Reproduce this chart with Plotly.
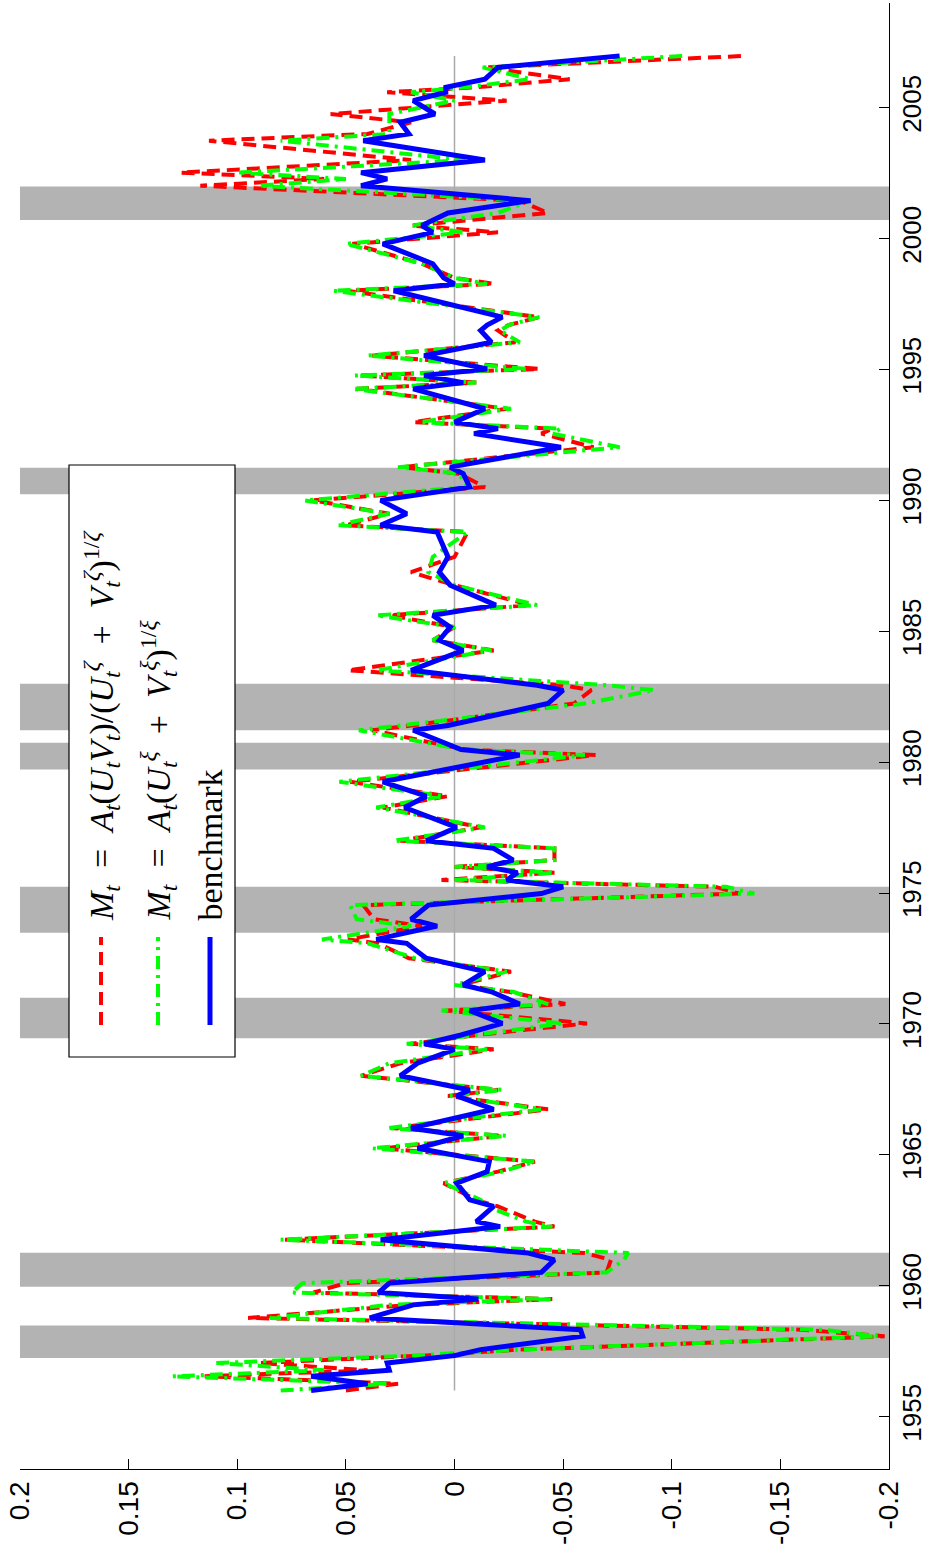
import plotly.graph_objects as go

# ---------------- data ----------------
years = [1956.00, 1956.26, 1956.54, 1956.77, 1957.05, 1957.33, 1957.56, 1958.07, 1958.32, 1958.77,
         1959.27, 1959.49, 1959.74, 1960.10, 1960.51, 1960.99, 1961.25, 1961.76, 1962.26, 1962.45,
         1963.03, 1963.28, 1963.92, 1964.36, 1964.74, 1965.25, 1965.73, 1966.02, 1966.74, 1967.25,
         1967.48, 1968.02, 1968.50, 1969.03, 1969.24, 1969.58, 1970.02, 1970.51, 1970.76, 1971.23,
         1971.49, 1972.00, 1972.51, 1973.08, 1973.23, 1973.74, 1974.00, 1974.54, 1974.98, 1975.24,
         1975.50, 1975.78, 1976.00, 1976.26, 1976.71, 1977.00, 1977.51, 1978.27, 1978.70, 1979.25,
         1980.27, 1980.48, 1981.22, 1981.40, 1982.24, 1982.75, 1982.94, 1983.51, 1984.27, 1984.66,
         1985.16, 1985.61, 1986.00, 1986.76, 1987.26, 1987.84, 1988.79, 1989.05, 1989.49, 1990.00,
         1990.51, 1991.02, 1991.27, 1992.03, 1992.55, 1992.74, 1992.99, 1993.50, 1994.26, 1994.50,
         1994.77, 1995.02, 1995.53, 1996.04, 1996.49, 1996.70, 1997.00, 1998.01, 1998.27, 1998.50,
         1999.04, 1999.80, 2000.24, 2000.50, 2000.98, 2001.45, 2002.02, 2002.28, 2002.52, 2003.00,
         2003.74, 2004.00, 2004.44, 2004.76, 2005.27, 2005.59, 2005.78, 2006.09, 2006.54, 2006.98]

benchmark = [0.066, 0.040, 0.066, 0.030, 0.031, 0.000, -0.012, -0.059, -0.058, 0.039,
             0.019, -0.011, 0.035, 0.030, -0.040, -0.046, -0.034, 0.034, -0.021, -0.010,
             -0.018, -0.007, -0.001, -0.015, -0.016, 0.017, -0.004, 0.020, -0.018, -0.001,
             -0.007, 0.025, 0.017, 0.000, 0.014, -0.003, -0.022, -0.007, -0.030, -0.017,
             -0.004, -0.014, 0.013, 0.022, 0.036, 0.008, 0.020, 0.012, -0.040, -0.050,
             -0.024, -0.029, -0.015, -0.027, -0.018, 0.013, -0.001, 0.023, 0.013, 0.033,
             -0.030, -0.003, 0.019, 0.003, -0.043, -0.050, -0.038, 0.020, -0.004, 0.007,
             0.002, 0.010, -0.019, 0.002, 0.007, 0.003, 0.008, 0.034, 0.022, 0.034,
             -0.007, -0.004, 0.002, -0.049, -0.009, -0.020, 0.000, -0.014, 0.019, -0.004,
             0.014, -0.015, 0.014, -0.017, -0.012, -0.015, -0.022, 0.028, 0.000, 0.005,
             0.010, 0.033, 0.010, 0.015, 0.003, -0.035, 0.043, 0.031, 0.043, -0.014,
             0.042, 0.021, 0.025, 0.009, 0.019, 0.004, 0.004, -0.014, -0.020, -0.076]

ces_model = [0.050, 0.026, 0.115, 0.040, 0.090, 0.015, -0.030, -0.198, -0.160, 0.095,
             0.020, -0.045, 0.065, 0.050, -0.070, -0.072, -0.060, 0.078, -0.046, -0.037,
             -0.020, -0.010, 0.005, -0.020, -0.037, 0.033, -0.022, 0.028, -0.043, 0.003,
             -0.020, 0.043, 0.025, -0.018, 0.020, -0.010, -0.061, 0.004, -0.051, -0.025,
             -0.003, -0.026, 0.021, 0.035, 0.049, 0.015, 0.037, 0.042, -0.131, -0.120,
             0.006, -0.046, 0.000, -0.046, -0.046, 0.025, -0.012, 0.033, 0.003, 0.048,
             -0.065, -0.005, 0.038, 0.020, -0.055, -0.063, -0.050, 0.049, -0.018, 0.010,
             0.000, 0.030, -0.035, 0.000, 0.020, 0.000, -0.006, 0.050, 0.030, 0.065,
             -0.014, -0.002, 0.024, -0.064, -0.040, -0.045, 0.019, -0.024, 0.045, -0.010,
             0.044, -0.039, 0.038, -0.028, -0.020, -0.025, -0.039, 0.050, -0.018, 0.000,
             0.015, 0.047, -0.020, 0.020, -0.043, -0.030, 0.117, 0.060, 0.126, 0.020,
             0.113, 0.040, 0.020, 0.057, -0.024, 0.031, -0.010, -0.053, -0.014, -0.134]

cd_model = [0.080, 0.030, 0.130, 0.060, 0.110, 0.020, -0.030, -0.195, -0.170, 0.085,
            0.030, -0.045, 0.075, 0.070, -0.070, -0.078, -0.080, 0.080, -0.045, -0.033,
            -0.015, -0.012, 0.005, -0.022, -0.037, 0.038, -0.024, 0.031, -0.040, 0.002,
            -0.022, 0.043, 0.030, -0.015, 0.022, -0.010, -0.050, 0.006, -0.043, -0.027,
            0.000, -0.024, 0.018, 0.040, 0.061, 0.020, 0.045, 0.048, -0.138, -0.125,
            0.000, -0.046, 0.000, -0.046, -0.046, 0.028, -0.014, 0.036, 0.005, 0.053,
            -0.060, -0.004, 0.044, 0.025, -0.060, -0.092, -0.070, 0.036, -0.017, 0.010,
            0.000, 0.036, -0.038, 0.000, 0.012, 0.010, -0.006, 0.054, 0.030, 0.069,
            -0.006, -0.002, 0.026, -0.076, -0.045, -0.049, 0.016, -0.026, 0.047, -0.010,
            0.046, -0.034, 0.040, -0.030, -0.021, -0.025, -0.039, 0.056, -0.015, 0.000,
            0.015, 0.050, -0.005, 0.020, -0.020, -0.035, 0.090, 0.050, 0.100, -0.005,
            0.080, 0.030, 0.030, 0.030, 0.000, 0.020, -0.005, -0.035, -0.013, -0.106]

rec_start = [1957.24, 1959.96, 1969.45, 1973.48, 1979.72, 1981.22, 1990.23, 2000.71]
rec_end = [1958.48, 1961.26, 1971.00, 1975.24, 1980.74, 1983.00, 1991.25, 2001.99]

value_ticks = [0.2, 0.15, 0.1, 0.05, 0, -0.05, -0.1, -0.15, -0.2]
value_labels = ["0.2", "0.15", "0.1", "0.05", "0", "-0.05", "-0.1", "-0.15", "-0.2"]
year_ticks = [1955, 1960, 1965, 1970, 1975, 1980, 1985, 1990, 1995, 2000, 2005]

SP = "\u2002"
legend_names = [
    f"<i>M<sub>t</sub></i>{SP}={SP}<i>A<sub>t</sub></i>(<i>U<sub>t</sub>V<sub>t</sub></i>)/(<i>U</i><sub><i>t</i></sub><sup><i>ζ</i></sup>{SP}+{SP}<i>V</i><sub><i>t</i></sub><sup><i>ζ</i></sup>)<sup>1/<i>ζ</i></sup>",
    f"<i>M<sub>t</sub></i>{SP}={SP}<i>A<sub>t</sub></i>(<i>U</i><sub><i>t</i></sub><sup><i>ξ</i></sup>{SP}+{SP}<i>V</i><sub><i>t</i></sub><sup><i>ξ</i></sup>)<sup>1/<i>ξ</i></sup>",
    "benchmark",
]

# ---------------- layout geometry ----------------
W, H = 926, 1562
L, R, T, B = 20, 37, 3, 93
PW, PH = W - L - R, H - T - B


def xp(px):
    return (px - L) / PW


def yp(py):
    return (H - B - py) / PH


RED = "#ff0000"
GREEN = "#00ff00"
BLUE = "#0000ff"
GRAY = "#b3b3b3"
red_dash = "13px,7px"
green_dash = "13px,6px,3px,6px"

fig = go.Figure()
fig.add_trace(go.Scatter(x=ces_model, y=years, mode="lines",
                         line=dict(color=RED, width=4, dash=red_dash), showlegend=False))
fig.add_trace(go.Scatter(x=cd_model, y=years, mode="lines",
                         line=dict(color=GREEN, width=4, dash=green_dash), showlegend=False))
fig.add_trace(go.Scatter(x=benchmark, y=years, mode="lines",
                         line=dict(color=BLUE, width=5), showlegend=False))

shapes = []
# zero line
shapes.append(dict(type="line", xref="x", yref="y", x0=0, x1=0, y0=years[0], y1=years[-1],
                   line=dict(color="#aaaaaa", width=1.5), layer="below"))
# recession bands
for s, e in zip(rec_start, rec_end):
    shapes.append(dict(type="rect", xref="paper", yref="y", x0=0, x1=1, y0=s, y1=e,
                       fillcolor=GRAY, line=dict(width=0), layer="below"))
# legend box
shapes.append(dict(type="rect", xref="paper", yref="paper", x0=xp(69), x1=xp(235),
                   y0=yp(1057), y1=yp(465), fillcolor="white",
                   line=dict(color="black", width=1.2), layer="above"))
sample_x = [101, 158, 210]
sample_styles = [dict(color=RED, width=4, dash=red_dash),
                 dict(color=GREEN, width=4, dash=green_dash),
                 dict(color=BLUE, width=5)]
for sx, st in zip(sample_x, sample_styles):
    shapes.append(dict(type="line", xref="paper", yref="paper", x0=xp(sx), x1=xp(sx),
                       y0=yp(1025), y1=yp(937), line=st, layer="above"))

annotations = []
for sx, name in zip(sample_x, legend_names):
    annotations.append(dict(x=xp(sx), y=yp(923), xref="paper", yref="paper",
                            text=name, textangle=-90, showarrow=False,
                            xanchor="center", yanchor="bottom",
                            font=dict(family="Liberation Serif", size=34, color="black")))

fig.update_layout(
    width=W, height=H,
    margin=dict(l=L, r=R, t=T, b=B, pad=0, autoexpand=False),
    paper_bgcolor="white", plot_bgcolor="white",
    shapes=shapes, annotations=annotations,
    font=dict(family="Liberation Sans", size=28, color="black"),
    xaxis=dict(range=[0.2, -0.2], tickvals=value_ticks, ticktext=value_labels,
               tickangle=-90, ticks="inside", ticklen=10, tickcolor="black",
               showline=True, linecolor="black", linewidth=1.2, mirror=False,
               showgrid=False, zeroline=False, automargin=False),
    yaxis=dict(range=[1953, 2009], tickvals=year_ticks, side="right",
               tickangle=-90, ticks="inside", ticklen=10, tickcolor="black",
               tickfont=dict(family="Liberation Sans", size=26, color="black"),
               showline=True, linecolor="black", linewidth=1.2, mirror=False,
               showgrid=False, zeroline=False, automargin=False),
)

fig.write_html("out.html", config={"displayModeBar": False},
               post_script="document.body.style.margin='0';")
